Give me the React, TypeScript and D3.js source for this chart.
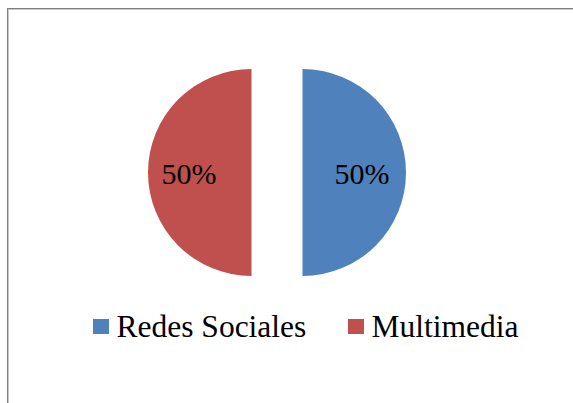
import React from "react";
import * as d3 from "d3";

const categories = ["Redes Sociales", "Multimedia"];
const values = [50, 50];
const labels = ["50%", "50%"];
const colors = ["#4F81BD", "#C0504D"];

export default function App() {
  const W = 573, H = 403;
  const cx = 277, cy = 172.5, R = 103.5, explode = 25.5;
  const pie = d3.pie<number>().sort(null).startAngle(0).endAngle(2 * Math.PI);
  const arcs = pie(values);
  const arc = d3.arc<d3.PieArcDatum<number>>().innerRadius(0).outerRadius(R);
  const labelArc = d3.arc<d3.PieArcDatum<number>>().innerRadius(R * 1.18).outerRadius(0);
  const font = "Liberation Serif";
  const legendX = [93, 348];
  return (
    <svg width={W} height={H} style={{ position: "absolute", left: 0, top: 0, background: "#fff" }}>
      <line x1={7.5} y1={8} x2={7.5} y2={H} stroke="#808080" strokeWidth={1} />
      <line x1={8.5} y1={9} x2={8.5} y2={H} stroke="#c8c8c8" strokeWidth={1} />
      <line x1={7} y1={8.5} x2={W} y2={8.5} stroke="#808080" strokeWidth={1} />
      <line x1={8} y1={9.5} x2={W} y2={9.5} stroke="#c8c8c8" strokeWidth={1} />
      {arcs.map((a, i) => {
        const mid = (a.startAngle + a.endAngle) / 2;
        const dx = Math.sin(mid) * explode;
        const dy = -Math.cos(mid) * explode;
        const [lx, ly] = labelArc.centroid(a);
        return (
          <g key={i} transform={`translate(${cx + dx},${cy + dy})`}>
            <path d={arc(a) || ""} fill={colors[i]} />
            <text x={lx - 1.5} y={ly + 11} textAnchor="middle" fontFamily={font} fontSize={30} fill="#000">
              {labels[i]}
            </text>
          </g>
        );
      })}
      {categories.map((c, i) => (
        <g key={c}>
          <rect x={legendX[i]} y={319} width={16} height={15} fill={colors[i]} />
          <text x={legendX[i] + 23.5} y={336.5} fontFamily={font} fontSize={31.5} fill="#000">
            {c}
          </text>
        </g>
      ))}
    </svg>
  );
}
